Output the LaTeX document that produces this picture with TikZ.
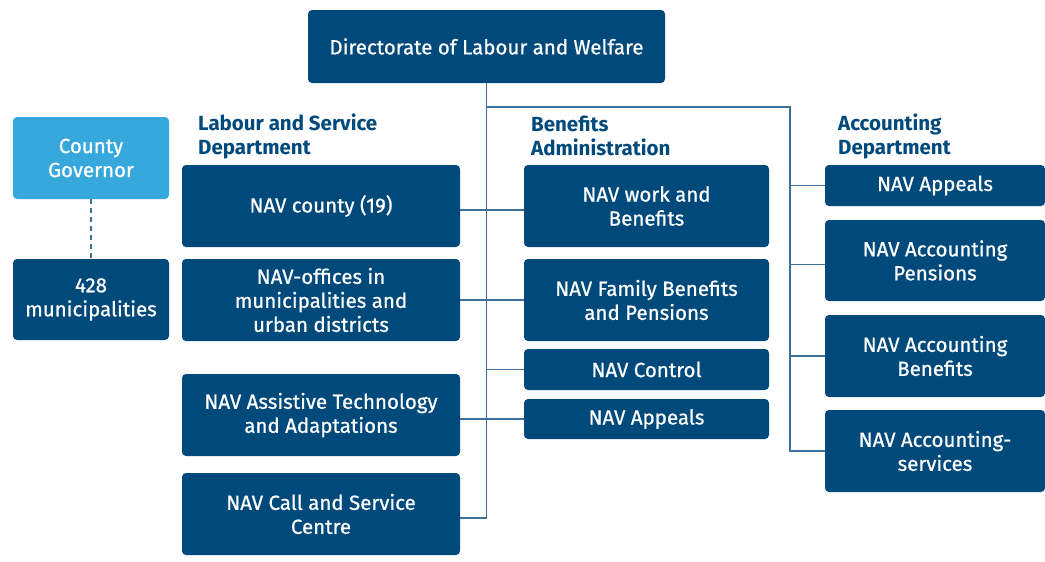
\documentclass[tikz,border=0pt]{standalone}
\usepackage{fontspec}
\setmainfont{Fira Sans}
\newfontfamily\boxfont{Fira Sans}[FakeBold=0.7]
\definecolor{navdark}{HTML}{00497B}
\definecolor{navlight}{HTML}{37A8DB}
\definecolor{navline}{HTML}{3C6F9A}
\begin{document}
\begin{tikzpicture}[x=1pt,y=-1pt,
  box/.style={draw=none,fill=navdark,rounded corners=4pt,text=white,align=center,
    font=\boxfont\fontsize{20.5}{24}\selectfont,inner sep=0pt},
  lbox/.style={box,fill=navlight},
  hdr/.style={anchor=west,align=left,text=navdark,font=\fontsize{20.5}{24}\selectfont\bfseries,inner sep=0pt},
  conn/.style={draw=navline,line width=1.5pt}]
\useasboundingbox (0,0) rectangle (1045,562);
% boxes
\node[box,minimum width=357pt,minimum height=73pt] (dir) at (486.5,46.5) {Directorate of Labour and Welfare};
\node[lbox,minimum width=156pt,minimum height=82pt] (cg) at (91,158) {County\\Governor};
\node[box,minimum width=156pt,minimum height=81pt] (mun) at (91,299.5) {428\\municipalities};
\node[box,minimum width=278pt,minimum height=82pt] (county) at (321,206) {NAV county (19)};
\node[box,minimum width=278pt,minimum height=82pt] (offices) at (321,300) {NAV-offices in\\municipalities and\\urban districts};
\node[box,minimum width=278pt,minimum height=82pt] (assist) at (321,415) {NAV Assistive Technology\\and Adaptations};
\node[box,minimum width=278pt,minimum height=82pt] (call) at (321,514) {NAV Call and Service\\Centre};
\node[box,minimum width=245pt,minimum height=82pt] (work) at (646.5,206) {NAV work and\\Benefits};
\node[box,minimum width=245pt,minimum height=82pt] (family) at (646.5,300) {NAV Family Benefits\\and Pensions};
\node[box,minimum width=245pt,minimum height=41pt] (control) at (646.5,369.5) {NAV Control};
\node[box,minimum width=245pt,minimum height=40pt] (appealsB) at (646.5,419) {NAV Appeals};
\node[box,minimum width=220pt,minimum height=41pt] (appealsA) at (935,185.5) {NAV Appeals};
\node[box,minimum width=220pt,minimum height=81pt] (pens) at (935,260.5) {NAV Accounting\\Pensions};
\node[box,minimum width=220pt,minimum height=82pt] (ben) at (935,356) {NAV Accounting\\Benefits};
\node[box,minimum width=220pt,minimum height=82pt] (serv) at (935,451) {NAV Accounting-\\services};
% headers
\node[hdr] (h1) at (198,136) {Labour and Service\\Department};
\node[hdr] (h2) at (531,136) {Benefits\\Administration};
\node[hdr] (h3) at (838,136) {Accounting\\Department};
% connectors
\coordinate (rb) at (790,107);
\draw[conn] (dir.south) |- ([yshift=-4pt]call.east);
\draw[conn] (dir.south |- rb) -- (rb) |- (serv.west);
\draw[conn] ([yshift=-4pt]county.east) -- ([yshift=-4pt]work.west);
\draw[conn] (offices.east |- family.west) -- (family.west);
\draw[conn] (assist.east |- appealsB.west) -- (appealsB.west);
\draw[conn] (dir.south |- control.west) -- (control.west);
\draw[conn] (rb |- appealsA.west) -- (appealsA.west);
\draw[conn] ([yshift=-4pt]pens.west -| rb) -- ([yshift=-4pt]pens.west);
\draw[conn] (rb |- ben.west) -- (ben.west);
\draw[conn,dash pattern=on 5pt off 4pt] (cg.south) -- (mun.north);
\end{tikzpicture}
\end{document}
